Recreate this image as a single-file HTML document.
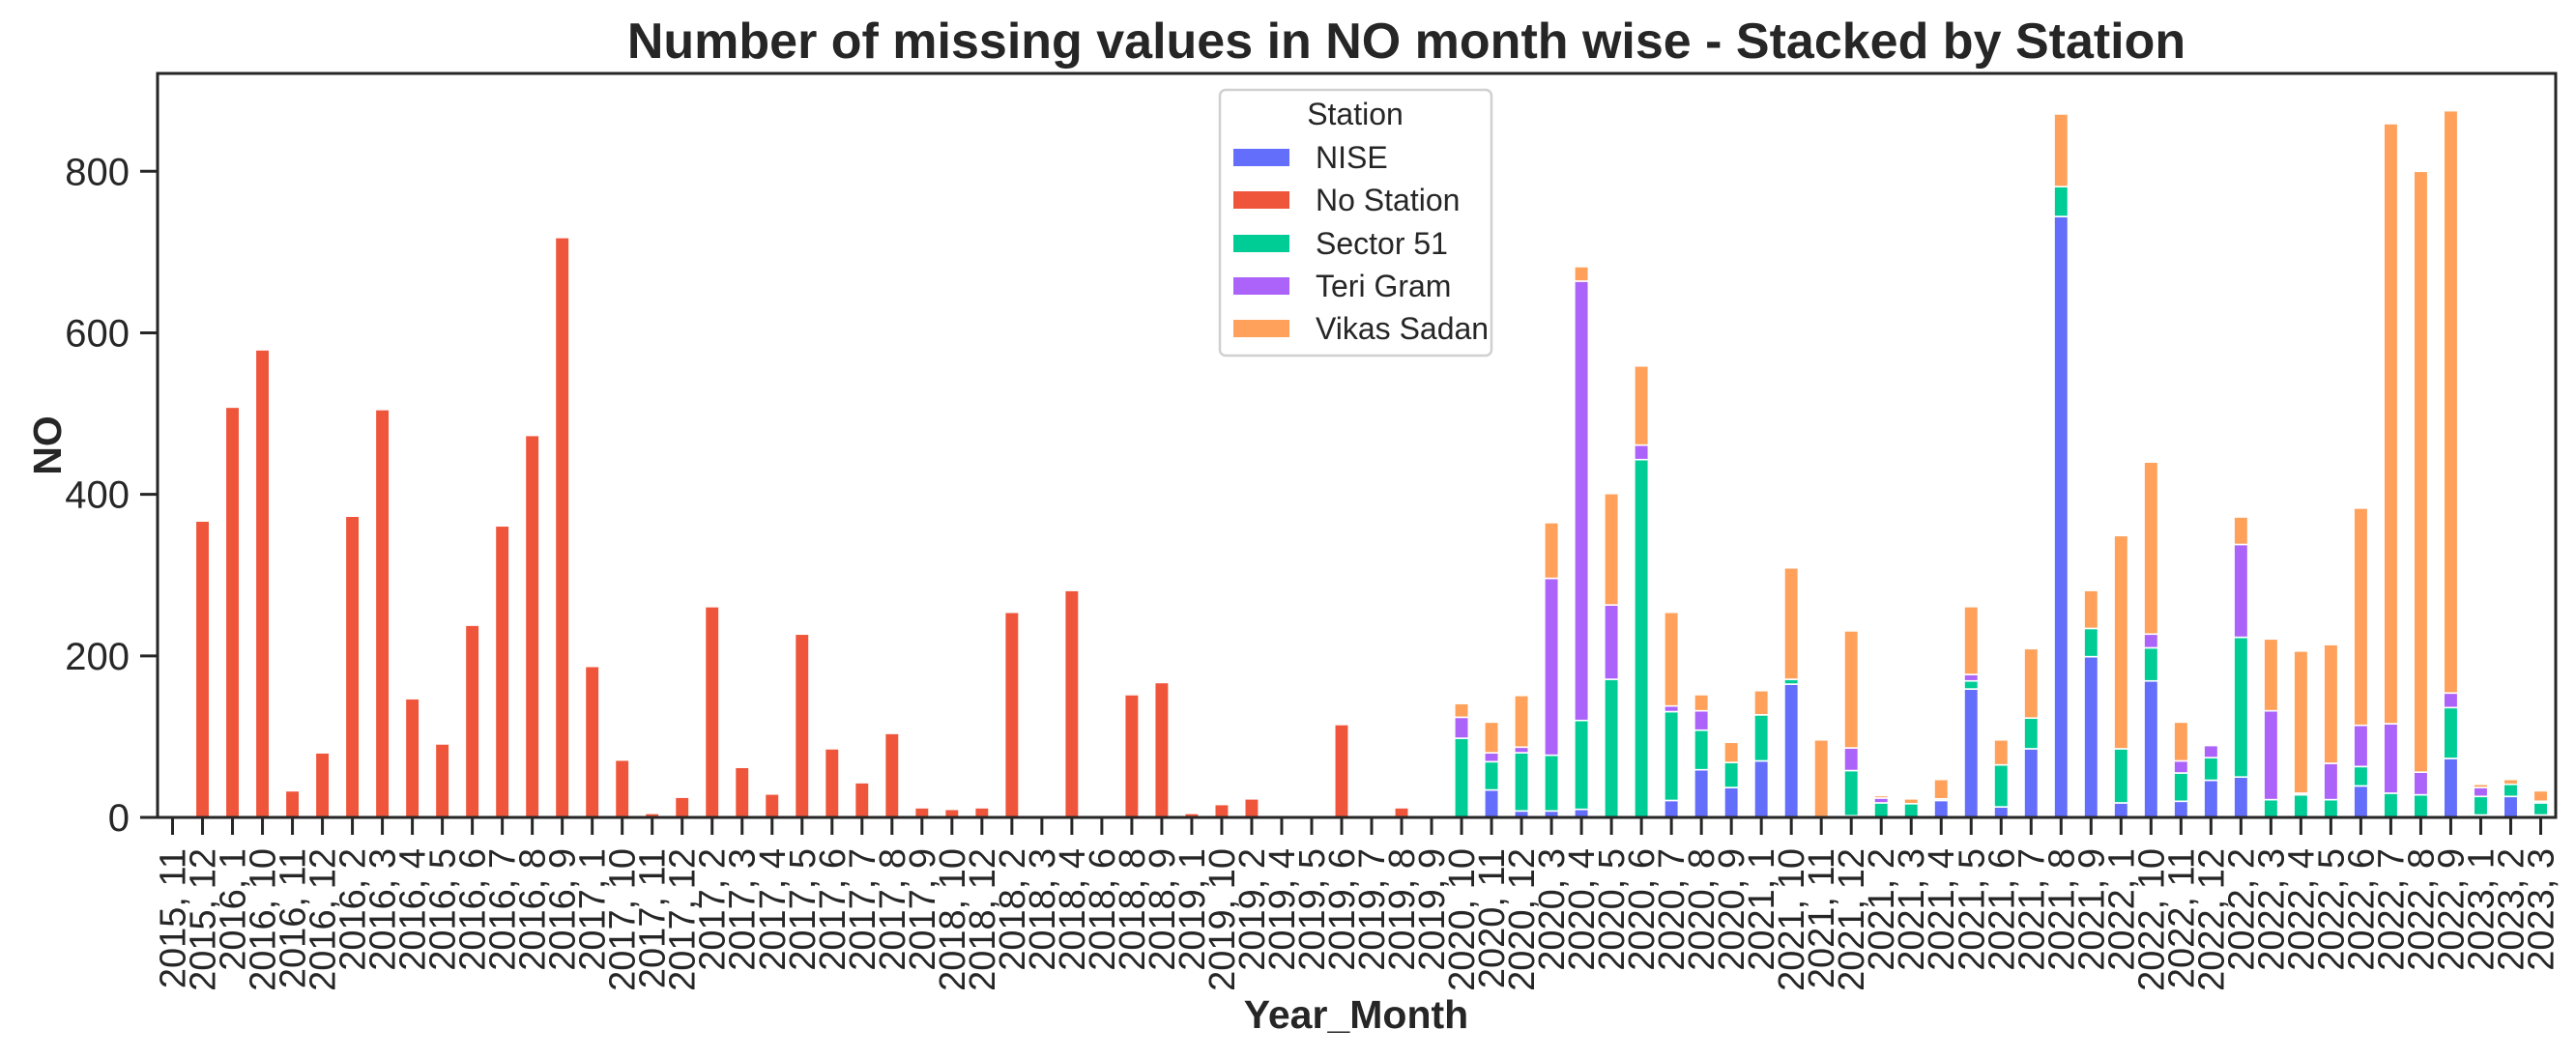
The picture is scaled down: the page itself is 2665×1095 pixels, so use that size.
<!DOCTYPE html>
<html><head><meta charset="utf-8"><style>
html,body{margin:0;padding:0;background:#fff;}
svg{display:block;font-family:"Liberation Sans",Arial,sans-serif;}
</style></head><body>
<svg id="chart" width="2665" height="1095" viewBox="0 0 2665 1095" xmlns="http://www.w3.org/2000/svg">
<rect width="2665" height="1095" fill="#fff"/>
<text x="1455" y="60" text-anchor="middle" font-size="52" font-weight="bold" fill="#262626">Number of missing values in NO month wise - Stacked by Station</text>
<g id="bars"></g>
<g id="xaxis"></g>
<g id="yaxis"></g>
<rect x="163" y="76" width="2481" height="770" fill="none" stroke="#262626" stroke-width="3"/>
<text x="1403" y="1064" text-anchor="middle" font-size="41" font-weight="bold" fill="#262626">Year_Month</text>
<text transform="translate(63,461) rotate(-90)" text-anchor="middle" font-size="41" font-weight="bold" fill="#262626">NO</text>
<g id="legend"></g>
</svg>
<script>
const categories = ["2015, 11","2015, 12","2016, 1","2016, 10","2016, 11","2016, 12","2016, 2","2016, 3","2016, 4","2016, 5","2016, 6","2016, 7","2016, 8","2016, 9","2017, 1","2017, 10","2017, 11","2017, 12","2017, 2","2017, 3","2017, 4","2017, 5","2017, 6","2017, 7","2017, 8","2017, 9","2018, 10","2018, 12","2018, 2","2018, 3","2018, 4","2018, 6","2018, 8","2018, 9","2019, 1","2019, 10","2019, 2","2019, 4","2019, 5","2019, 6","2019, 7","2019, 8","2019, 9","2020, 10","2020, 11","2020, 12","2020, 3","2020, 4","2020, 5","2020, 6","2020, 7","2020, 8","2020, 9","2021, 1","2021, 10","2021, 11","2021, 12","2021, 2","2021, 3","2021, 4","2021, 5","2021, 6","2021, 7","2021, 8","2021, 9","2022, 1","2022, 10","2022, 11","2022, 12","2022, 2","2022, 3","2022, 4","2022, 5","2022, 6","2022, 7","2022, 8","2022, 9","2023, 1","2023, 2","2023, 3"];
const seriesNames = ["NISE","No Station","Sector 51","Teri Gram","Vikas Sadan"];
const seriesColors = ["#636efa","#ef553b","#00cc96","#ab63fa","#ffa15a"];
const nise = [0,0,0,0,0,0,0,0,0,0, 0,0,0,0,0,0,0,0,0,0, 0,0,0,0,0,0,0,0,0,0, 0,0,0,0,0,0,0,0,0,0, 0,0,0,
 0,34,8,8,10,0,0,21,59,37,70,165,0,2,0,0,21,159,13,85,744,199,18,169,20,46,50,0,0,0,39,0,0,73,3,26,3];
const noStation = [0,367,508,579,33,80,373,505,147,91, 238,361,473,718,187,71,5,25,261,62, 29,227,85,43,104,12,10,12,254,0, 281,0,152,167,5,16,23,2,1,115, 0,12,0,
 0,0,0,0,0,0,0,0,0,0,0,0,0,0,0,0,0,0,0,0,0,0,0,0,0,0,0,0,0,0,0,0,0,0,0,0,0];
const sector51 = [0,0,0,0,0,0,0,0,0,0, 0,0,0,0,0,0,0,0,0,0, 0,0,0,0,0,0,0,0,0,0, 0,0,0,0,0,0,0,0,0,0, 0,0,0,
 98,35,72,69,110,171,443,110,49,31,57,6,0,56,18,17,2,10,52,38,37,35,67,41,35,28,173,22,28,22,24,30,28,63,23,15,15];
const teriGram = [0,0,0,0,0,0,0,0,0,0, 0,0,0,0,0,0,0,0,0,0, 0,0,0,0,0,0,0,0,0,0, 0,0,0,0,0,0,0,0,0,0, 0,0,0,
 26,11,7,219,544,92,18,7,24,0,0,0,0,28,6,0,0,8,0,0,0,0,0,17,15,15,115,110,2,45,51,86,28,18,11,0,2];
const vikasSadan = [0,0,0,0,0,0,0,0,0,0, 0,0,0,0,0,0,0,0,0,0, 0,0,0,0,0,0,0,0,0,0, 0,0,0,0,0,0,0,0,0,0, 0,0,0,
 17,38,64,69,18,138,98,116,20,25,30,138,96,145,3,6,24,84,31,86,90,47,264,213,48,0,34,89,176,147,269,743,744,721,4,6,13];
const yTicks = [0,200,400,600,800];

const NS = "http://www.w3.org/2000/svg";
const plotL = 163, plotR = 2644, baseY = 846, pxPerUnit = 0.8359;
const step = (plotR - plotL) / categories.length;
function xCenter(i){ return plotL + step * (i + 0.5); }
function yPos(v){ return baseY - v * pxPerUnit; }
function mk(tag, attrs){ const e = document.createElementNS(NS, tag); for (const k in attrs) e.setAttribute(k, attrs[k]); return e; }

const allSeries = [nise, noStation, sector51, teriGram, vikasSadan];
const barsG = document.getElementById('bars');
const bw = 14.5;
for (let i = 0; i < categories.length; i++) {
  let cum = 0;
  for (let s = 0; s < allSeries.length; s++) {
    const v = allSeries[s][i];
    if (!v) continue;
    const y0 = yPos(cum), y1 = yPos(cum + v);
    const r = mk('rect', {x: xCenter(i) - bw/2, y: y1, width: bw, height: y0 - y1, fill: seriesColors[s], stroke: '#fff', 'stroke-width': 1.6});
    
    
    barsG.appendChild(r);
    cum += v;
  }
}

const xG = document.getElementById('xaxis');
for (let i = 0; i < categories.length; i++) {
  const x = xCenter(i);
  const t = mk('line', {x1: x, y1: baseY, x2: x, y2: baseY + 18, stroke: '#262626', 'stroke-width': 3});
  
  
  xG.appendChild(t);
  const lbl = mk('text', {transform: 'translate(' + (x + 13) + ',' + (baseY + 32) + ') rotate(-90)', 'text-anchor': 'end', 'font-size': 38, fill: '#262626'});
  lbl.textContent = categories[i];
  
  
  xG.appendChild(lbl);
}

const yG = document.getElementById('yaxis');
yTicks.forEach(v => {
  const y = yPos(v);
  const t = mk('line', {x1: plotL - 18, y1: y, x2: plotL, y2: y, stroke: '#262626', 'stroke-width': 3});
  
  
  yG.appendChild(t);
  const lbl = mk('text', {x: 134, y: y + 14, 'text-anchor': 'end', 'font-size': 40, fill: '#262626'});
  lbl.textContent = v;
  
  
  yG.appendChild(lbl);
});

const lg = document.getElementById('legend');
const box = mk('rect', {x: 1262, y: 93, width: 281, height: 275, rx: 6, fill: '#fff', 'fill-opacity': 0.85, stroke: '#d0d0d0', 'stroke-width': 2.5});


lg.appendChild(box);
const lt = mk('text', {x: 1402, y: 129, 'text-anchor': 'middle', 'font-size': 32, fill: '#262626'});
lt.textContent = 'Station';


lg.appendChild(lt);
const rowY = [163, 207, 252, 296, 340];
seriesNames.forEach((n, k) => {
  const sw = mk('rect', {x: 1276, y: rowY[k] - 9, width: 58, height: 18, fill: seriesColors[k]});
  
  
  lg.appendChild(sw);
  const tx = mk('text', {x: 1361, y: rowY[k] + 11, 'font-size': 32, fill: '#262626'});
  tx.textContent = n;
  
  
  lg.appendChild(tx);
});
</script>
</body></html>
